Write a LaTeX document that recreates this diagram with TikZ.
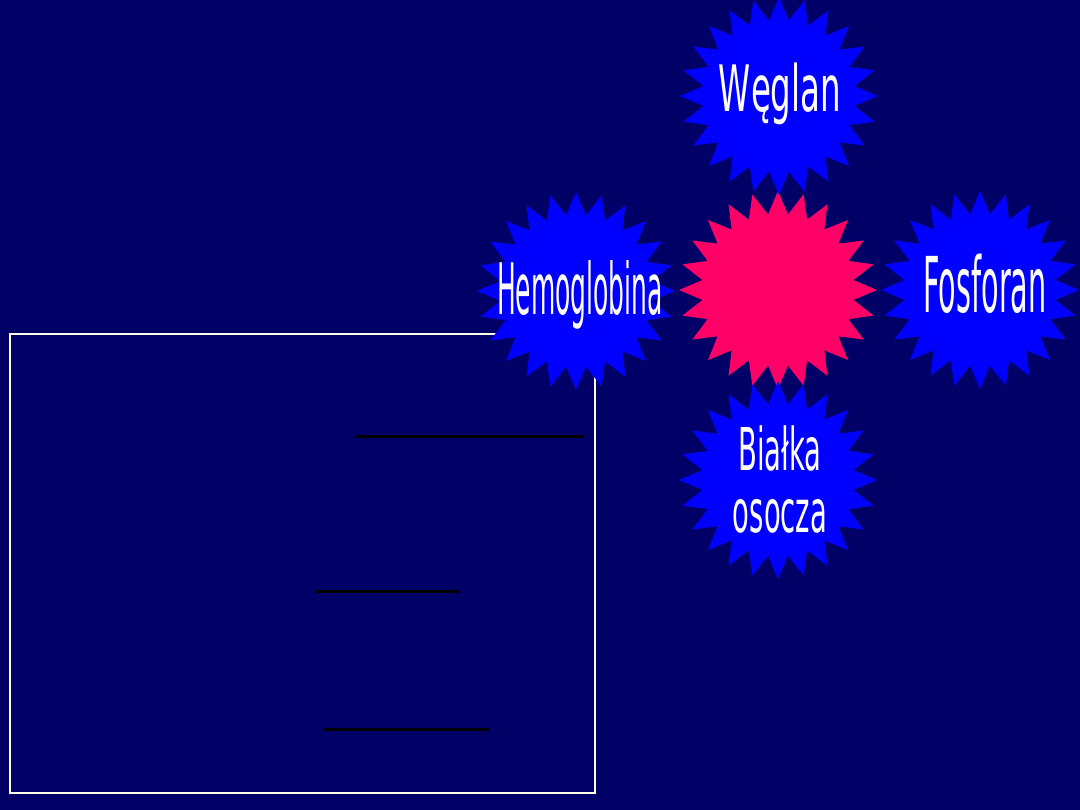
\documentclass[tikz,border=0pt]{standalone}
\usepackage{fontspec}
\setmainfont{DejaVu Sans}
\usepackage{graphicx}
\usetikzlibrary{shapes.geometric}
\definecolor{slide}{HTML}{000066}
\definecolor{burst}{HTML}{0000FF}
\definecolor{core}{HTML}{FF0066}
\definecolor{frame}{HTML}{FFFFE6}
\tikzset{
  bluestar/.style={star,star points=24,star point ratio=1.3,minimum size=198pt,inner sep=0pt,fill=burst,draw=none},
  redstar/.style={bluestar,fill=core},
  starlabel/.style={text=white,inner sep=0pt,anchor=base,align=center},
  blank/.style={draw=black,line width=3pt},
}
\newcommand{\squeeze}[2]{\scalebox{#1}[1]{#2}}

\begin{document}
\begin{tikzpicture}[x=1pt,y=-1pt]
\fill[slide] (0,0) rectangle (1080,810);
\useasboundingbox (0,0) rectangle (1080,810);

% left: empty answer frame with blanks
\node[draw=frame,line width=2pt,minimum width=585.5pt,minimum height=459pt,anchor=north west,inner sep=0pt] (frame) at (8.5,333) {};
\draw[blank] (356,437) -- (584,437);
\draw[blank] (316,591) -- (460,591);
\draw[blank] (324,729) -- (489,729);

% right: buffers around the core
\node[redstar] (core) at (778,290) {};
\node[bluestar] (weglan) at (779,96) {};
\node[bluestar] (hemo) at (576,291) {};
\node[bluestar] (fosf) at (980,290) {};
\node[bluestar] (bialka) at (778,480) {};

\node[starlabel,font=\fontsize{64}{68}\selectfont] (weglanlbl) at (780,112) {\squeeze{0.507}{Węglan}};
\node[starlabel,font=\fontsize{71}{75}\selectfont] (hemolbl) at (580,315) {\squeeze{0.352}{Hemoglobina}};
\node[starlabel,font=\fontsize{77}{80}\selectfont] (fosflbl) at (985,313) {\squeeze{0.372}{Fosforan}};
\node[starlabel,font=\fontsize{59}{62}\selectfont] (bialkalbl) at (780,532) {\squeeze{0.465}{Białka}\\\squeeze{0.465}{osocza}};

\end{tikzpicture}
\end{document}
